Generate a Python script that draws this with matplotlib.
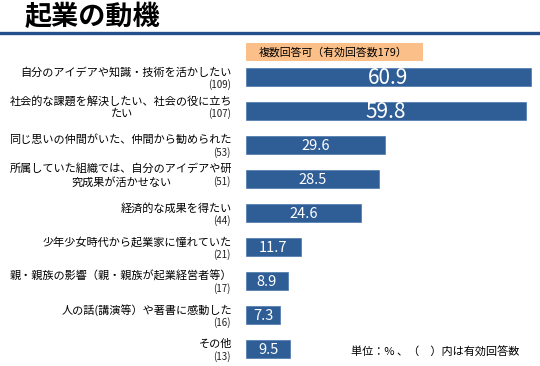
import matplotlib
matplotlib.use("Agg")
import matplotlib.pyplot as plt
from matplotlib.transforms import blended_transform_factory
from matplotlib.patches import Rectangle

plt.rcParams['font.family'] = ['Noto Sans CJK JP', 'DejaVu Sans']

labels = [
    "自分のアイデアや知識・技術を活かしたい",
    "社会的な課題を解決したい、社会の役に立ち\nたい",
    "同じ思いの仲間がいた、仲間から勧められた",
    "所属していた組織では、自分のアイデアや研\n究成果が活かせない",
    "経済的な成果を得たい",
    "少年少女時代から起業家に憧れていた",
    "親・親族の影響（親・親族が起業経営者等）",
    "人の話(講演等）や著書に感動した",
    "その他",
]
counts = [109, 107, 53, 51, 44, 21, 17, 16, 13]
values = [60.9, 59.8, 29.6, 28.5, 24.6, 11.7, 8.9, 7.3, 9.5]

bar_color = "#2f5d95"
W, H = 540, 366

fig = plt.figure(figsize=(5.4, 3.66), dpi=100)
fig.patch.set_facecolor("white")

# bar area: starts at x=246px, 4.68 px per percent; rows 34px apart, first at y=77px
ax = fig.add_axes([246 / W, 0, 1 - 246 / W, 1])
ax.set_xlim(0, (W - 246) / 4.68)
ax.set_ylim((H - 77) / 34, -77 / 34)
ax.axis("off")

ypos = list(range(len(values)))
ax.barh(ypos, values, height=18 / 34, color=bar_color, edgecolor="#4a77ad", linewidth=0.5)

for i, v in enumerate(values):
    fs = 15 if v > 50 else 10.5
    ax.text(v / 2, i + 0.02, f"{v}", color="white", fontsize=fs,
            ha="center", va="center")

trans = blended_transform_factory(fig.transFigure, ax.transData)
px = 1 / 34
lab_fs = 8.0
for i, (lab, n) in enumerate(zip(labels, counts)):
    if "\n" in lab:
        first, second = lab.split("\n")
        ax.text(232 / W, i - 10 * px, first, transform=trans, fontsize=lab_fs,
                ha="right", va="center")
        ax.text(122 / W, i + 3 * px, second, transform=trans, fontsize=lab_fs,
                ha="center", va="center")
        ax.text(231 / W, i + 3 * px, f"({n})", transform=trans, fontsize=7,
                ha="right", va="center", color="#222222")
    else:
        ax.text(232 / W, i - 5 * px, lab, transform=trans, fontsize=lab_fs,
                ha="right", va="center")
        ax.text(231 / W, i + 8 * px, f"({n})", transform=trans, fontsize=7,
                ha="right", va="center", color="#222222")

# title and rule
fig.text(25 / W, 1 - 17 / H, "起業の動機", fontsize=19.5, fontweight="bold",
         ha="left", va="center")
fig.add_artist(plt.Line2D([0, 1], [1 - 32.5 / H, 1 - 32.5 / H], color="#23508a",
                          linewidth=2.4, transform=fig.transFigure))

# note box
fig.add_artist(Rectangle((246 / W, 1 - 61 / H), 177 / W, 18 / H, color="#fbbf8a",
                         transform=fig.transFigure, linewidth=0))
fig.text(333 / W, 1 - 52 / H, "複数回答可（有効回答数179）", fontsize=7.8,
         ha="center", va="center")

fig.text(519 / W, 1 - 352 / H, "単位：% 、（　）内は有効回答数", fontsize=8,
         ha="right", va="center")

fig.savefig("out.png", dpi=100, facecolor="white")
